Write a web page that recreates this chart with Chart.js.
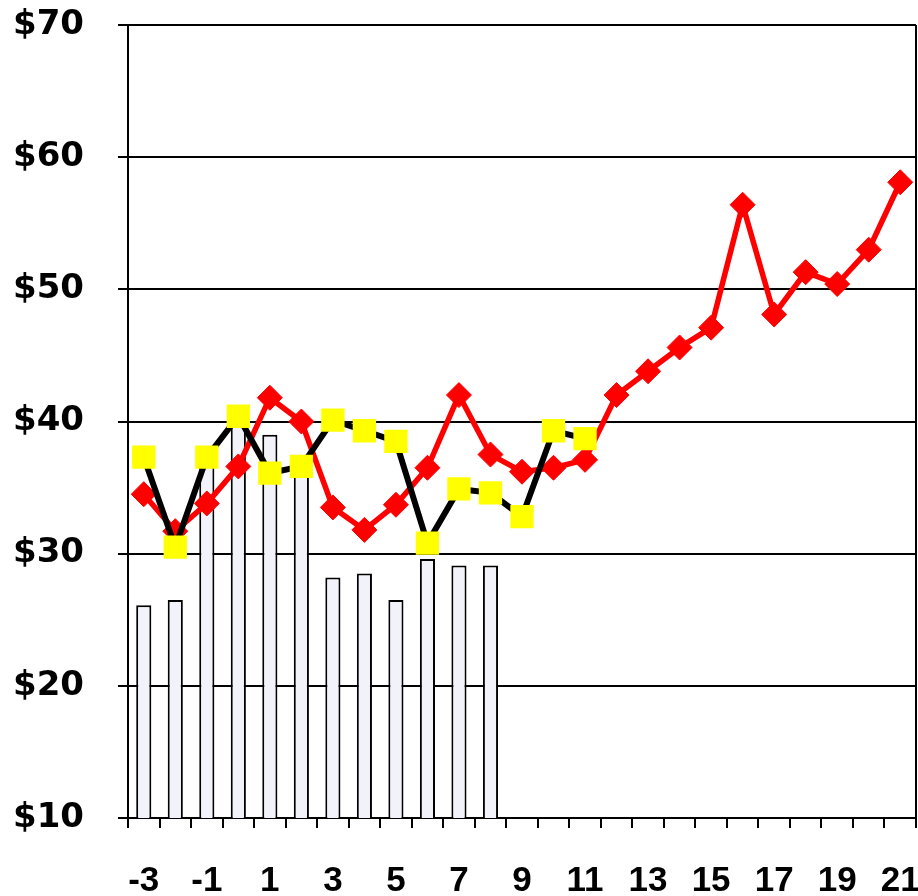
<!DOCTYPE html>
<html>
<head>
<meta charset="utf-8">
<script src="https://cdn.jsdelivr.net/npm/chart.js@4.4.1/dist/chart.umd.min.js"></script>
<style>
  html, body { margin: 0; padding: 0; background: #fff; }
  #wrap { width: 918px; height: 896px; }
</style>
</head>
<body>
<div id="wrap"><canvas id="c" width="918" height="896"></canvas></div>
<script>
  /* -------- Data -------- */
  const periods = [-3, -2, -1, 0, 1, 2, 3, 4, 5, 6, 7, 8, 9, 10, 11, 12, 13, 14, 15, 16, 17, 18, 19, 20, 21];

  const barValues = [26.1, 26.5, 37.0, 40.0, 39.0, 37.0, 28.2, 28.5, 26.5, 29.6, 29.1, 29.1,
                     null, null, null, null, null, null, null, null, null, null, null, null, null];

  const actualValues = [37.3, 30.5, 37.3, 40.4, 36.1, 36.6, 40.1, 39.3, 38.5, 30.8, 34.9, 34.6, 32.8, 39.3, 38.7,
                        null, null, null, null, null, null, null, null, null, null];

  const forecastValues = [34.5, 31.7, 33.8, 36.6, 41.8, 40.0, 33.5, 31.8, 33.7, 36.5, 42.0, 37.5, 36.2, 36.5, 37.1,
                          42.0, 43.8, 45.6, 47.1, 56.4, 48.1, 51.3, 50.4, 53.0, 58.1];

  const yTicks = { min: 10, max: 70, step: 10 };

  /* -------- Frame on the right side of the plot -------- */
  const frame = {
    id: "frame",
    afterDraw(chart) {
      const { ctx, chartArea: a } = chart;
      ctx.save();
      ctx.strokeStyle = "#000";
      ctx.lineWidth = 2;
      ctx.beginPath();
      ctx.moveTo(a.right, a.top);
      ctx.lineTo(a.right, a.bottom);
      ctx.stroke();
      ctx.restore();
    }
  };

  new Chart(document.getElementById("c").getContext("2d"), {
    type: "bar",
    data: {
      labels: periods,
      datasets: [
        {
          type: "line",
          data: actualValues,
          borderColor: "#000",
          borderWidth: 6,
          pointStyle: "rect",
          pointRadius: 16.5,
          pointBackgroundColor: "#FFFF00",
          pointBorderColor: "#FFFF00",
          pointBorderWidth: 0,
          spanGaps: false,
          tension: 0,
          order: 1
        },
        {
          type: "line",
          data: forecastValues,
          borderColor: "#FF0000",
          borderWidth: 5.5,
          pointStyle: "rectRot",
          pointRadius: 12.5,
          pointBackgroundColor: "#FF0000",
          pointBorderColor: "#FF0000",
          pointBorderWidth: 1,
          tension: 0,
          order: 2
        },
        {
          data: barValues,
          backgroundColor: "#F2F2FB",
          borderColor: "#000",
          borderWidth: 2,
          categoryPercentage: 1,
          barPercentage: 0.48,
          order: 3
        }
      ]
    },
    options: {
      responsive: false,
      animation: false,
      layout: { autoPadding: false, padding: { top: 25, right: 2, left: 0, bottom: 0 } },
      plugins: { legend: { display: false }, tooltip: { enabled: false } },
      scales: {
        x: {
          offset: true,
          grid: { offset: true, drawOnChartArea: false, drawTicks: true, tickLength: 10, color: "#000", lineWidth: 2 },
          border: { display: true, color: "#000", width: 2 },
          ticks: {
            autoSkip: false,
            maxRotation: 0,
            padding: 32,
            color: "#000",
            font: { family: "'Liberation Sans', Arial, sans-serif", size: 35, weight: "bold" },
            callback: function (v, i) {
              const p = periods[i];
              return (p + 3) % 2 === 0 ? String(p) : "";
            }
          },
          afterFit: (s) => { s.height = 78; s.paddingLeft = 0; s.paddingRight = 0; }
        },
        y: {
          min: yTicks.min,
          max: yTicks.max,
          grid: { color: "#000", lineWidth: 2, tickLength: 10 },
          border: { display: true, color: "#000", width: 2 },
          ticks: {
            stepSize: yTicks.step,
            padding: 34,
            color: "#000",
            font: { family: "'DejaVu Sans', sans-serif", size: 34, weight: "bold" },
            callback: (v) => "$" + v
          },
          afterFit: (s) => { s.width = 128; s.paddingTop = 0; s.paddingBottom = 0; }
        }
      }
    },
    plugins: [frame]
  });
</script>
</body>
</html>
